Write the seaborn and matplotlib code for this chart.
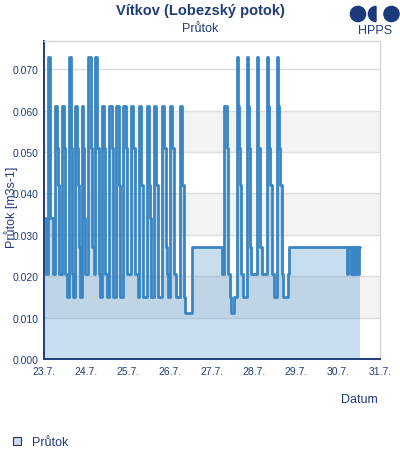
import matplotlib
matplotlib.use("Agg")
import matplotlib.pyplot as plt
import matplotlib.dates as mdates
import matplotlib.patches as mpatches
from matplotlib.transforms import IdentityTransform
import numpy as np
import pandas as pd
import seaborn as sns

# step series: hours since 23.7. 00:00 and flow [m3/s]
hours = [
    0.0, 1.14, 2.29, 3.6, 5.14, 6.46, 7.43, 8.0, 8.74, 10.29,
    11.43, 12.17, 13.14, 14.11, 15.26, 16.0, 16.4, 17.89, 18.69, 19.26,
    19.83, 20.57, 21.71, 22.46, 22.86, 23.6, 25.14, 26.69, 27.43, 28.57,
    28.97, 30.46, 31.6, 32.17, 33.14, 34.29, 35.03, 35.83, 37.31, 38.86,
    39.26, 39.6, 41.14, 42.69, 43.43, 45.31, 46.86, 47.6, 49.89, 51.03,
    51.83, 52.17, 53.71, 54.46, 55.6, 56.4, 58.69, 60.17, 60.57, 61.31,
    62.86, 64.17, 65.31, 67.26, 68.4, 69.54, 70.29, 70.69, 72.17, 73.31,
    74.46, 75.6, 77.54, 78.69, 79.83, 80.57, 84.4, 101.89, 103.03, 104.57,
    104.97, 105.31, 106.29, 106.86, 108.74, 110.11, 110.29, 111.03, 111.43, 112.0,
    112.57, 113.54, 115.83, 116.74, 117.31, 117.89, 118.29, 121.54, 122.46, 123.6,
    124.4, 127.26, 128.17, 128.74, 129.31, 130.11, 131.6, 133.14, 133.89, 134.46,
    135.03, 135.83, 136.4, 139.6, 140.0, 172.97, 173.89, 175.26, 175.83, 176.57,
    177.14, 178.0, 178.57, 179.43, 180.0, 180.74,
]
flow = [
    0.034, 0.0205, 0.073, 0.034, 0.0205, 0.061, 0.051, 0.042, 0.0205, 0.061,
    0.051, 0.0205, 0.015, 0.073, 0.051, 0.0205, 0.015, 0.061, 0.051, 0.042,
    0.027, 0.015, 0.061, 0.051, 0.034, 0.0205, 0.073, 0.051, 0.027, 0.0205,
    0.073, 0.051, 0.0205, 0.015, 0.061, 0.051, 0.0205, 0.015, 0.061, 0.051,
    0.0205, 0.015, 0.061, 0.042, 0.015, 0.061, 0.051, 0.0205, 0.061, 0.051,
    0.027, 0.0205, 0.015, 0.061, 0.042, 0.015, 0.061, 0.042, 0.034, 0.015,
    0.061, 0.042, 0.015, 0.061, 0.051, 0.027, 0.0205, 0.015, 0.061, 0.051,
    0.0205, 0.015, 0.061, 0.042, 0.015, 0.011, 0.027, 0.0205, 0.061, 0.051,
    0.042, 0.0205, 0.015, 0.011, 0.015, 0.0205, 0.073, 0.061, 0.051, 0.042,
    0.0205, 0.015, 0.073, 0.061, 0.051, 0.027, 0.0205, 0.073, 0.051, 0.027,
    0.0205, 0.073, 0.061, 0.051, 0.042, 0.0205, 0.015, 0.073, 0.061, 0.051,
    0.042, 0.0205, 0.015, 0.0205, 0.027, 0.0205, 0.027, 0.0205, 0.027, 0.0205,
    0.027, 0.0205, 0.027, 0.0205, 0.027, 0.027,
]

y_ticks = [0.0, 0.01, 0.02, 0.03, 0.04, 0.05, 0.06, 0.07]
bands = [(0.01, 0.02), (0.03, 0.04), (0.05, 0.06)]

start = pd.Timestamp("2024-07-23")
df = pd.DataFrame({
    "time": start + pd.to_timedelta(hours, unit="h"),
    "flow": flow,
})

NAVY = "#203c7a"
LINE = "#3a86c4"

sns.set_theme(style="white")
plt.rcParams["font.family"] = ["Liberation Sans", "DejaVu Sans"]

fig = plt.figure(figsize=(4, 4.6), dpi=100)
ax = fig.add_axes([0.11, 0.2174, 0.84, 0.6913])

for lo, hi in bands:
    ax.axhspan(lo, hi, color="#f3f3f3", zorder=0, lw=0)
for t in y_ticks[1:]:
    ax.axhline(t, color="#dedede", lw=1, zorder=0.5)

ax.fill_between(df["time"], df["flow"], step="post", color=LINE,
                alpha=0.28, lw=0, zorder=1)
sns.lineplot(data=df, x="time", y="flow", ax=ax, drawstyle="steps-post",
             estimator=None, color=LINE, lw=2.0, zorder=2, legend=False)

ax.set_xlim(start, start + pd.Timedelta(days=8))
ax.set_ylim(0, 0.0768)
ax.set_yticks(y_ticks)
ax.yaxis.set_major_formatter(plt.FormatStrFormatter("%.3f"))
ax.xaxis.set_major_locator(mdates.DayLocator())
ax.xaxis.set_major_formatter(mdates.DateFormatter("%-d.%-m."))
ax.tick_params(axis="both", length=0, labelsize=7.5, colors=NAVY)
ax.tick_params(axis="x", pad=5)
ax.tick_params(axis="y", pad=4)
ax.set_xlabel("")
ax.set_ylabel("")

for side in ("left", "bottom"):
    ax.spines[side].set_color(NAVY)
    ax.spines[side].set_linewidth(1.4)
for side in ("top", "right"):
    ax.spines[side].set_color("#d6d6d6")
    ax.spines[side].set_linewidth(1)

fig.text(0.5, 1 - 11 / 460, "Vítkov (Lobezský potok)", ha="center", va="center",
         fontsize=10.5, fontweight="bold", color=NAVY)
fig.text(0.5, 1 - 29 / 460, "Průtok", ha="center", va="center",
         fontsize=9, color=NAVY)
fig.text(11 / 400, 1 - 207 / 460, "Průtok [m3s-1]", rotation=90,
         ha="center", va="center", fontsize=9, color=NAVY)
fig.text(378 / 400, 1 - 400 / 460, "Datum", ha="right", va="center",
         fontsize=9, color=NAVY)

# HPPS logo
ident = IdentityTransform()
logo = "#1b3a7c"
fig.add_artist(mpatches.Circle((358, 460 - 15), 7.6, transform=ident, color=logo))
fig.add_artist(mpatches.Wedge((376, 460 - 15), 7.6, 90, 270, transform=ident,
                              color=logo))
fig.add_artist(mpatches.Circle((391.5, 460 - 15), 7.6, transform=ident, color=logo))
fig.text(375 / 400, 1 - 31 / 460, "HPPS", ha="center", va="center",
         fontsize=9, color=NAVY)

# legend
handle = mpatches.Patch(facecolor="#c6dcf0", edgecolor="#333333", lw=0.8,
                        label="Průtok")
fig.legend(handles=[handle], loc="center left",
           bbox_to_anchor=(0.005, 1 - 443 / 460), frameon=False,
           fontsize=9, labelcolor=NAVY, handlelength=0.6, handleheight=0.6,
           handletextpad=0.9)

fig.savefig("out.png", dpi=100)
